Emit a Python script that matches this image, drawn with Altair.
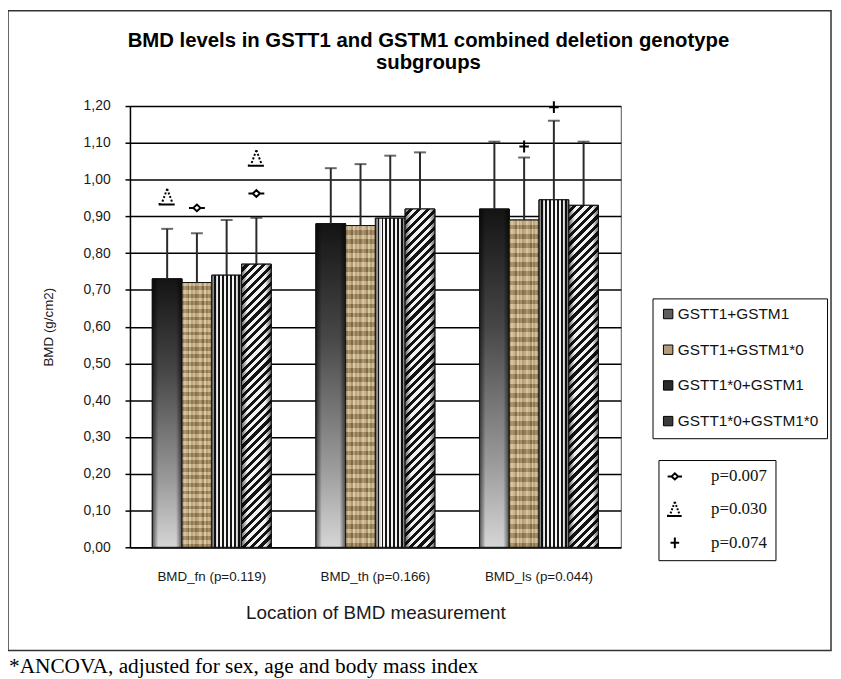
import altair as alt
import pandas as pd

# ---------------- data ----------------
groups = ["BMD_fn (p=0.119)", "BMD_th (p=0.166)", "BMD_ls (p=0.044)"]
series = ["GSTT1+GSTM1", "GSTT1+GSTM1*0", "GSTT1*0+GSTM1", "GSTT1*0+GSTM1*0"]
mean_s1 = [0.73, 0.88, 0.92]
mean_s2 = [0.72, 0.875, 0.89]
mean_s3 = [0.74, 0.895, 0.945]
mean_s4 = [0.77, 0.92, 0.93]
sd_s1 = [0.136, 0.151, 0.183]
sd_s2 = [0.134, 0.167, 0.17]
sd_s3 = [0.15, 0.17, 0.215]
sd_s4 = [0.126, 0.154, 0.173]
marker_group = [groups[0], groups[0], groups[0], groups[0], groups[2], groups[2]]
marker_series = [series[0], series[1], series[3], series[3], series[1], series[2]]
marker_y = [0.953, 0.923, 0.962, 1.058, 1.09, 1.197]
marker_label = ["p=0.030", "p=0.007", "p=0.007", "p=0.030", "p=0.074", "p=0.074"]
marker_names = ["p=0.007", "p=0.030", "p=0.074"]
y_ticks = [round(i * 0.1, 1) for i in range(13)]
title_lines = ["BMD levels in GSTT1 and GSTM1 combined deletion genotype", "subgroups"]
footnote = "*ANCOVA, adjusted for sex, age and body mass index"

means = [mean_s1, mean_s2, mean_s3, mean_s4]
sds = [sd_s1, sd_s2, sd_s3, sd_s4]
rows = []
for si, s in enumerate(series):
    for gi, g in enumerate(groups):
        rows.append({"group": g, "series": s, "mean": means[si][gi],
                     "upper": means[si][gi] + sds[si][gi]})
df = pd.DataFrame(rows)
mdf = pd.DataFrame({"group": marker_group, "series": marker_series,
                    "my": marker_y, "label": marker_label})
one = pd.DataFrame({"a": [0]})

# ---------------- layout ----------------
W, H = 495, 445
YMAX = 1.2
BARW = 30.0


def grad(stops, x1, y1, x2, y2):
    return alt.LinearGradient(
        gradient="linear",
        stops=[alt.GradientStop(offset=float(min(max(o, 0.0), 1.0)), color=c) for o, c in stops],
        x1=x1, y1=y1, x2=x2, y2=y2)


g_s1 = grad([(0, "#141414"), (0.35, "#474747"), (0.75, "#9a9a9a"), (1, "#d6d6d6")], 0, 0, 0, 1)
edge = grad([(0, "rgba(0,0,0,0.6)"), (0.2, "rgba(0,0,0,0)"), (0.8, "rgba(0,0,0,0)"),
             (1, "rgba(0,0,0,0.6)")], 0, 0, 1, 0)

tan_cols = ["#a99169", "#c8b28b", "#b59e76", "#8e7953", "#cfba95", "#a48c63", "#bda67e", "#97815b"]
tan_stops = []
nb = 16
for i in range(nb):
    c = tan_cols[i % len(tan_cols)]
    tan_stops += [(i / nb, c), ((i + 1) / nb, c)]
g_s2 = grad(tan_stops, 0, 0, 1, 0)
tex_stops = []
nt = 70
for i in range(nt):
    c = "rgba(255,240,205,0.28)" if i % 2 == 0 else "rgba(70,50,20,0.22)"
    tex_stops += [(i / nt, c), ((i + 1) / nt, c)]
g_s2b = grad(tex_stops, 0, 0, 0, 1)

vs_stops = []
nv = 7.5
per = 1 / nv
k = 0
while k * per < 1:
    o = k * per
    vs_stops += [(o, "#f5f5f5"), (o + per * 0.55, "#f5f5f5"),
                 (o + per * 0.55, "#151515"), (o + per, "#151515")]
    k += 1
g_s3 = grad(vs_stops, 0, 0, 1, 0)


def hatch(value):
    h = value / YMAX * H
    w = BARW
    P = 8.5
    tot = w + h
    stops = []
    k = 0
    while k * P < tot:
        o = k * P / tot
        m = (k * P + P * 0.5) / tot
        e = (k + 1) * P / tot
        stops += [(o, "#f2f2f2"), (m, "#f2f2f2"), (m, "#141414"), (e, "#141414")]
        k += 1
    c = (w + h) / (w * w + h * h)
    return grad(stops, 0, 0, w * c, h * c)


# ---------------- encodings ----------------
x_axis = alt.Axis(title="Location of BMD measurement", labelAngle=0, ticks=False, tickSize=0,
                  labelPadding=22, labelFontSize=13.5, titleFontSize=19, titlePadding=21,
                  domainColor="black", domainWidth=1.5)
xenc = alt.X("group:N", sort=groups,
             scale=alt.Scale(domain=groups, paddingInner=0.273, paddingOuter=0.1365),
             axis=x_axis)
xoff = alt.XOffset("series:N", sort=series,
                   scale=alt.Scale(domain=series, paddingInner=0, paddingOuter=0))
yscale = alt.Scale(domain=[0, YMAX], nice=False, zero=True)
y_axis = alt.Axis(values=y_ticks, title="BMD (g/cm2)",
                  labelExpr="replace(format(datum.value, '.2f'), '.', ',')",
                  labelFontSize=14, labelPadding=15, tickSize=5, tickWidth=1.5,
                  titleFontSize=13.5, titlePadding=28, domainWidth=1.5, gridWidth=1.5)


def Y(field):
    return alt.Y(field, scale=yscale, axis=y_axis)


base = alt.Chart(df)

legend_bars = base.mark_bar(stroke="black", strokeWidth=1).encode(
    x=xenc, xOffset=xoff, y=Y("mean:Q"),
    color=alt.Color("series:N", sort=series,
                    scale=alt.Scale(domain=series,
                                    range=["#5e5e5e", "#b49d76", "#2a2a2a", "#3a3a3a"]),
                    legend=alt.Legend(title=None, orient="none", legendX=527, legendY=194,
                                      strokeColor="black", fillColor="white", padding=8,
                                      rowPadding=19, symbolType="square", symbolSize=90,
                                      symbolStrokeColor="black", symbolStrokeWidth=1,
                                      labelFont="Liberation Sans", labelFontSize=15.5,
                                      labelColor="#111111", labelOffset=2, labelLimit=300,
                                      labelExpr="datum.label + '\u2002'")))

layers = [legend_bars]


def bar_layer(filt, fill, stroke=True):
    kw = dict(fill=fill)
    if stroke:
        kw.update(stroke="#111111", strokeWidth=1)
    return base.transform_filter(filt).mark_bar(**kw).encode(x=xenc, xOffset=xoff, y=Y("mean:Q"))


layers.append(bar_layer(alt.datum.series == series[0], g_s1, False))
layers.append(bar_layer(alt.datum.series == series[0], edge, True))
layers.append(bar_layer(alt.datum.series == series[1], g_s2, False))
layers.append(bar_layer(alt.datum.series == series[1], g_s2b, True))
layers.append(bar_layer(alt.datum.series == series[2], g_s3, False))
layers.append(bar_layer(alt.datum.series == series[2], edge, True))
for gi, g in enumerate(groups):
    layers.append(bar_layer((alt.datum.series == series[3]) & (alt.datum.group == g),
                            hatch(mean_s4[gi]), False))
layers.append(bar_layer(alt.datum.series == series[3], edge, True))

layers.append(base.mark_rule(color="#2a2a2a", strokeWidth=2).encode(
    x=xenc, xOffset=xoff, y=Y("mean:Q"), y2="upper:Q"))
layers.append(base.mark_tick(color="#2a2a2a", thickness=2, size=12, orient="horizontal").encode(
    x=xenc, xOffset=xoff, y=Y("upper:Q")))

diamond_path = "M-1,0L-0.45,0M0.45,0L1,0M-0.45,0L0,-0.42L0.45,0L0,0.42Z"
tri_path = ("M0,-1L-0.09,-0.76M-0.168,-0.552L-0.258,-0.312M-0.336,-0.104L-0.426,0.136"
            "M-0.504,0.344L-0.6,0.6"
            "M0,-1L0.09,-0.76M0.168,-0.552L0.258,-0.312M0.336,-0.104L0.426,0.136"
            "M0.504,0.344L0.6,0.6"
            "M-0.95,0.78L-0.95,0.95L0.95,0.95")
plus_path = "M-0.6,0L0.6,0M0,-0.75L0,0.75"

mk_legend = alt.Legend(title=None, orient="none", legendX=533, legendY=357,
                       strokeColor="black", fillColor="white", padding=8,
                       rowPadding=13, symbolSize=210, symbolStrokeWidth=2,
                       labelFont="Liberation Serif", labelFontSize=17,
                       labelColor="#111111", labelOffset=28,
                       labelExpr="datum.label + '\u2003\u2002'")
markers = alt.Chart(mdf).mark_point(filled=False, fill="white", strokeWidth=2,
                                    size=256, opacity=1).encode(
    x=xenc, xOffset=xoff, y=Y("my:Q"),
    shape=alt.Shape("label:N", sort=marker_names,
                    scale=alt.Scale(domain=marker_names, range=[diamond_path, tri_path, plus_path]),
                    legend=mk_legend),
    stroke=alt.Stroke("label:N", sort=marker_names,
                      scale=alt.Scale(domain=marker_names, range=["black", "black", "black"]),
                      legend=mk_legend))
layers.append(markers)

frame = alt.Chart(one).mark_rect(filled=False, stroke="#333333", strokeWidth=1.5).encode(
    x=alt.value(-123), x2=alt.value(707), y=alt.value(-96), y2=alt.value(549))
layers.append(frame)

for i, (line, yy) in enumerate(zip(title_lines, [-66, -43])):
    layers.append(alt.Chart(one).mark_text(
        text=line, align="center", baseline="middle", font="Liberation Sans",
        fontSize=20.5, fontWeight="bold", color="black").encode(
        x=alt.value(301), y=alt.value(yy)))

note = alt.Chart(one).mark_text(text=footnote, align="left", baseline="middle",
                                font="Liberation Serif", fontSize=21.5, color="black").encode(
    x=alt.value(-122), y=alt.value(566))
layers.append(note)

chart = alt.layer(*layers).properties(
    width=W, height=H,
    padding={"left": 123, "top": 96, "right": 214, "bottom": 134},
    autosize=alt.AutoSizeParams(type="none"),
).configure_axis(
    labelFont="Liberation Sans", titleFont="Liberation Sans", gridColor="black",
    domainColor="black", tickColor="black", labelColor="#1a1a1a", titleColor="#1a1a1a",
    titleFontWeight="normal",
).configure_view(stroke="#555555", strokeWidth=1)

chart.save("out.html", embed_options={"renderer": "svg", "actions": False})
